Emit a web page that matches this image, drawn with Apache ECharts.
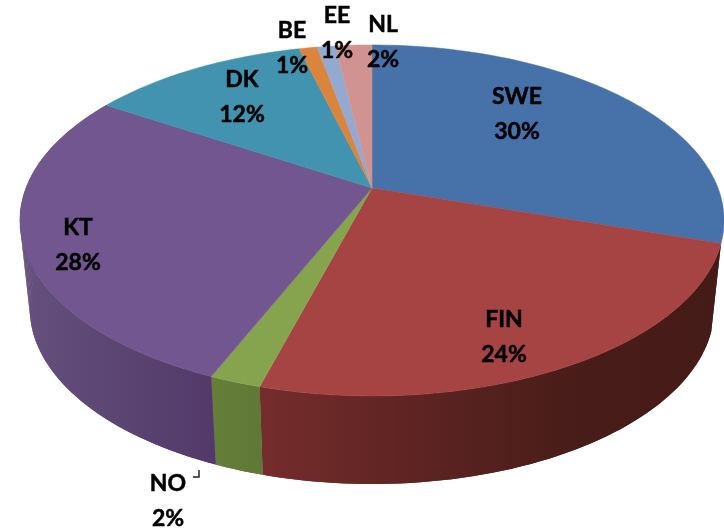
<!DOCTYPE html>
<html>
<head>
<meta charset="utf-8">
<style>
  html, body { margin: 0; padding: 0; background: #fff; }
  #main { width: 724px; height: 528px; }
</style>
<script src="https://cdn.jsdelivr.net/npm/echarts@6/dist/echarts.min.js"></script>
</head>
<body>
<div id="main"></div>
<script>
const names = ['SWE', 'FIN', 'NO', 'KT', 'DK', 'BE', 'EE', 'NL'];
// slice sizes as measured, the labels show them rounded
const shares = [30, 24.3, 2, 27.7, 12, 1, 1, 2];

const topColors = ['#4672A9', '#A54442', '#86A44E', '#72568F', '#4193AF', '#DB843D', '#93A9CF', '#D19392'];
// side wall shading, left to right; slices at the back have no visible wall
const wallColors = {
  FIN: ['#752C2C', '#5E2422', '#491D19', '#451B17'],
  NO: ['#657F3A', '#5F7837'],
  KT: ['#66517F', '#5E4875', '#58416F', '#52396A']
};
// label centres
const labelPos = [[517, 114], [504, 337], [168, 501], [78, 245], [242, 97], [292, 48], [337, 33], [383, 42]];

// perspective of the pie disc
const cx = 372, cy = 188, A = 346, B = 169.5, c = 0.185;
const wallDrop = 88, wallScale = 0.972;

const total = shares.reduce((a, b) => a + b, 0);

function project(deg, drop) {
  const t = deg * Math.PI / 180;
  const u = Math.sin(t), v = -Math.cos(t);
  const d = 1 - c * v;
  const k = drop ? wallScale : 1;
  return [cx + k * A * u / d, cy + (drop ? wallDrop : 0) + B * v / d];
}

function angles(i) {
  let before = 0;
  for (let j = 0; j < i; j++) before += shares[j];
  return [before / total * 360, (before + shares[i]) / total * 360];
}

function arc(from, to, drop) {
  const pts = [];
  const n = Math.max(2, Math.ceil((to - from) / 1.5));
  for (let k = 0; k <= n; k++) pts.push(project(from + (to - from) * k / n, drop));
  return pts;
}

function renderWall(params) {
  const cols = wallColors[names[params.dataIndex]];
  if (!cols) return { type: 'group', children: [] };
  const a = angles(params.dataIndex);
  const upper = arc(a[0], a[1], false);
  const lower = arc(a[0], a[1], true);
  const xs = upper.concat(lower).map((p) => p[0]);
  const stops = cols.map((col, i) => ({ offset: i / (cols.length - 1), color: col }));
  const fill = new echarts.graphic.LinearGradient(Math.min.apply(null, xs), 0, Math.max.apply(null, xs), 0, stops, true);
  // one quad per step so the silhouette stays straight at the sides, plus the full strip to hide the seams
  const children = [{ type: 'polygon', shape: { points: upper.concat(lower.slice().reverse()) }, style: { fill: fill } }];
  for (let k = 0; k < upper.length - 1; k++) {
    children.push({
      type: 'polygon',
      shape: { points: [upper[k], upper[k + 1], lower[k + 1], lower[k]] },
      style: { fill: fill }
    });
  }
  return { type: 'group', children: children };
}

function renderTop(params) {
  const a = angles(params.dataIndex);
  const pts = [[cx, cy]].concat(arc(a[0], a[1], false));
  const col = topColors[params.dataIndex];
  return { type: 'polygon', shape: { points: pts }, style: { fill: col, stroke: col, lineWidth: 0.5 } };
}

function renderLabel(params) {
  const i = params.dataIndex;
  return {
    type: 'text',
    x: labelPos[i][0],
    y: labelPos[i][1],
    style: {
      text: names[i] + '\n' + Math.round(shares[i]) + '%',
      fill: '#000',
      stroke: '#000',
      lineWidth: 0.5,
      font: 'bold 23px Lato',
      lineHeight: 35,
      align: 'center',
      verticalAlign: 'middle'
    }
  };
}

const data = shares.map((v) => [v]);
const chart = echarts.init(document.getElementById('main'));
chart.setOption({
  animation: false,
  series: [
    { type: 'custom', coordinateSystem: 'none', renderItem: renderWall, data: data, z: 1, silent: true },
    { type: 'custom', coordinateSystem: 'none', renderItem: renderTop, data: data, z: 2, silent: true },
    { type: 'custom', coordinateSystem: 'none', renderItem: renderLabel, data: data, z: 3, silent: true }
  ],
  graphic: [{
    // small leader mark next to the NO label
    type: 'polyline',
    z: 4,
    shape: { points: [[199, 470], [199, 477], [193, 477]] },
    style: { stroke: '#222', lineWidth: 1.5, fill: null }
  }]
});
</script>
</body>
</html>
